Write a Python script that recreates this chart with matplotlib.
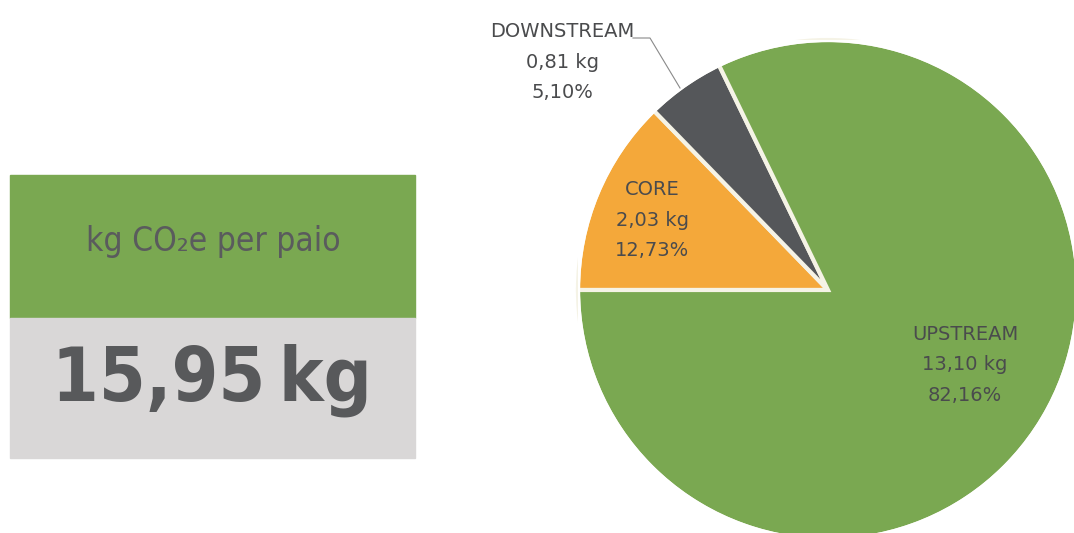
import matplotlib.pyplot as plt
from matplotlib.patches import Rectangle, Circle

# Data
segments = ['CORE', 'DOWNSTREAM', 'UPSTREAM']
kg_values = [2.03, 0.81, 13.10]
pct_values = [12.73, 5.10, 82.16]
total_kg = 15.95
colors = ['#f4a83a', '#55575a', '#7aa851']

plt.rcParams['font.family'] = ['DejaVu Sans']

fig = plt.figure(figsize=(10.74, 5.33), dpi=100)

# background axes in pixel coordinates
bg = fig.add_axes([0, 0, 1, 1])
bg.set_xlim(0, 1074)
bg.set_ylim(533, 0)
bg.axis('off')

bg.add_patch(Rectangle((10, 175), 405, 143, color='#7aa851'))
bg.add_patch(Rectangle((10, 318), 405, 140, color='#d9d7d7'))
bg.text(213, 242, 'kg CO₂e per paio', ha='center', va='center',
        fontsize=24, fontstretch='condensed', color='#5a5b5d')
bg.text(212, 380, f'{total_kg:.2f}'.replace('.', ',') + '\u2009kg', ha='center',
        va='center', fontsize=54, fontweight='bold', fontstretch='condensed',
        color='#58595b')

# pie axes: center (828, 290), radius 250 px
ax = fig.add_axes([578 / 1074, (533 - 540) / 533, 500 / 1074, 500 / 533])
ax.pie(kg_values, colors=colors, startangle=180, counterclock=False,
       wedgeprops=dict(edgecolor='#f5f3e6', linewidth=3))
ax.add_patch(Circle((0, 0), 1.004, fill=False, edgecolor='white', linewidth=4.5))
ax.set_xlim(-1, 1)
ax.set_ylim(-1, 1)
ax.set_aspect('equal')
ax.axis('off')

def fmt(v):
    return f'{v:.2f}'.replace('.', ',')

label_pos = {'CORE': (-0.704, 0.28), 'DOWNSTREAM': (-1.064, 0.912),
             'UPSTREAM': (0.548, -0.30)}
for name, kg, pct in zip(segments, kg_values, pct_values):
    x, y = label_pos[name]
    ax.text(x, y, f'{name}\n{fmt(kg)} kg\n{fmt(pct)}%', ha='center',
            va='center', fontsize=14, color='#4a4b4d', linespacing=1.75,
            clip_on=False)

ax.plot([-0.78, -0.712, -0.592], [1.008, 1.008, 0.808], color='#8a8a8a',
        linewidth=0.8, clip_on=False)

fig.savefig('out.png', dpi=100)
